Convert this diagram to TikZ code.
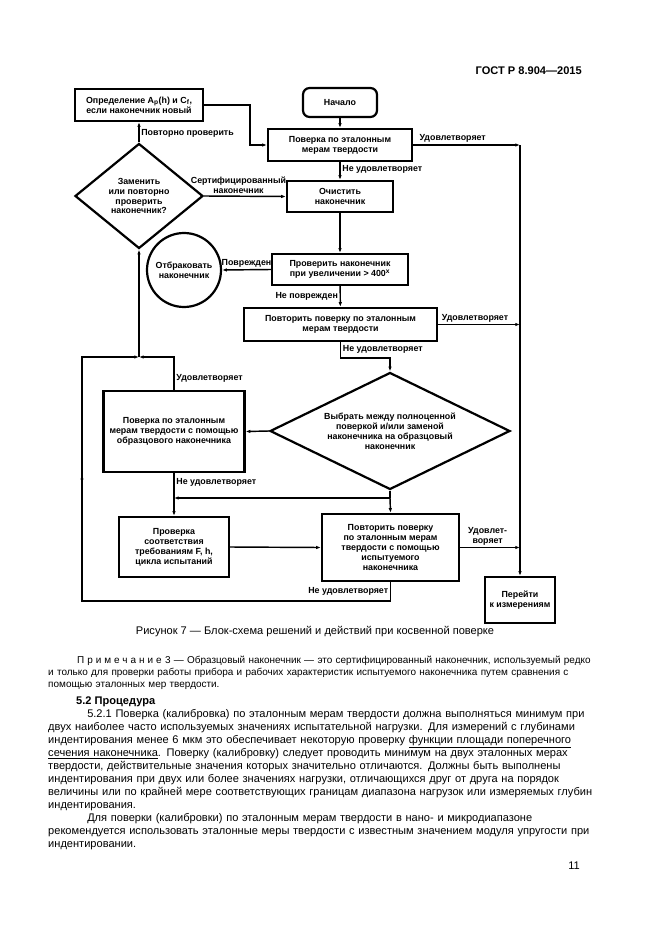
\documentclass[tikz,border=0pt]{standalone}
\usepackage{fontspec}
\setmainfont{Liberation Sans}
\usepackage{tikz}
\usetikzlibrary{
  shapes.geometric,
  arrows.meta,
  decorations,
  decorations.markings
}

\newcommand{\txtline}[1]{\hbox to\hsize{#1}}
\newcommand{\lastline}[1]{\hbox to\hsize{#1\hfil}}

\begin{document}
\begin{tikzpicture}[
          x=0.3177mm, y=-0.3177mm,
          dims/.style 2 args={
              minimum width=#1*0.3177mm,
              minimum height=#2*0.3177mm
            },
          chartfont/.style={
              font=\fontsize{8}{9}\selectfont\bfseries
            },
          block/.style={
              draw, line width=2pt, inner sep=1pt, align=center, chartfont
            },
          decision/.style={
              diamond, draw, line width=2pt, inner sep=0pt, align=center, chartfont
            },
          lbl/.style={
              inner sep=1.5pt, align=center, chartfont
            },
          conn/.style={
              line width=1.3pt, -{Latex[length=1.5mm,width=1.1mm]}
            },
          line/.style={
              line width=1.3pt
            },
          midarrow/.style={
              postaction={
                  decorate,
                  decoration={
                      markings,
                      mark=at position #1 with {\arrow{Latex[length=1.5mm,width=1.1mm]}}
                    }
                }
            },
          midarrow/.default=.5
        ]
        % лист
        \path[use as bounding box, fill=white] (0,0) rectangle (661,936);
        \node[anchor=base east, inner sep=0, font=\fontsize{10}{12}\selectfont\bfseries]
          (header) at (582,74.5) {ГОСТ Р 8.904—2015};

        % блоки схемы
        \node[block, rounded corners=6pt, dims={74}{29}] (start) at (340,102.5) {Начало};
        \node[block, dims={144}{32}] (pov1) at (340,145) {Поверка по эталонным\\мерам твердости};
        \node[block, dims={128}{32}] (opr) at (139,105)
          {Определение A\textsubscript{p}(h) и C\textsubscript{f},\\если наконечник новый};
        \node[decision, dims={128}{105}] (zam) at (139,196)
          {Заменить\\или повторно\\проверить\\наконечник?};
        \node[block, dims={106}{31}] (och) at (340,196.5) {Очистить\\наконечник};
        \node[circle, draw, line width=2pt, minimum size=74*0.3177mm, inner sep=0pt,
          align=center, chartfont] (otbr) at (184,270) {Отбраковать\\наконечник};
        \node[block, dims={136}{31}] (prov) at (340,269.5)
          {Проверить наконечник\\при увеличении > 400\textsuperscript{x}};
        \node[block, dims={193}{33}] (pov2) at (340.5,324.5)
          {Повторить поверку по эталонным\\мерам твердости};
        \node[block, dims={141}{81}] (obr) at (174,431.5)
          {Поверка по эталонным\\мерам твердости с помощью\\образцового наконечника};
        \node[decision, aspect=2, dims={240}{117}] (vyb) at (390,431)
          {Выбрать между полноценной\\поверкой и/или заменой\\наконечника на образцовый\\наконечник};
        \node[block, dims={110}{60}] (sootv) at (174,547)
          {Проверка\\соответствия\\требованиям F, h,\\цикла испытаний};
        \node[block, dims={137}{67}] (pov3) at (390.5,547.5)
          {Повторить поверку\\по эталонным мерам\\твердости с помощью\\испытуемого\\наконечника};
        \node[block, dims={70}{46}] (izm) at (520,600) {Перейти\\к измерениям};

        % точки изломов
        \coordinate (rtop) at (520,145);
        \coordinate (bendA) at (250,125);
        \coordinate (bendB) at (365,358);
        \coordinate (jtop) at (139,357);
        \coordinate (jbot) at (390,498);
        \coordinate (loopbl) at (82,601);

        % связи
        \draw[conn] (start) -- (pov1);
        \draw[conn] (pov1) -- node[lbl, right, pos=.4] (l_ne1) {Не удовлетворяет} (och);
        \draw[conn] (pov1.east) -- node[lbl, above, pos=.37] (l_ud1) {Удовлетворяет} (rtop);
        \draw[conn] (rtop) -- (izm.north);
        \draw[conn] (opr.east) -| (bendA) |- (pov1.west);
        \draw[conn] (zam.north) -- node[lbl, right, pos=.42] (l_pp) {Повторно проверить} (opr.south);
        \draw[conn] (zam.east) -- node[lbl, above, pos=.42] (l_sert) {Сертифицированный\\наконечник} (och.west);
        \draw[conn] (och) -- (prov);
        \draw[conn] (prov.west) -- node[lbl, above] (l_povr) {Поврежден} (otbr.east);
        \draw[conn] (prov) -- node[lbl, left] (l_nepovr) {Не поврежден} (pov2);
        \draw[conn] (pov2.east) -- node[lbl, above, pos=.45] (l_ud2) {Удовлетворяет} (pov2.east -| rtop);
        \draw[conn] (pov2.south) |- node[lbl, right, pos=.22] (l_ne2) {Не удовлетворяет} (bendB) -| (vyb.north);
        \draw[conn] (vyb.west) -- (obr.east);
        \draw[conn] (obr.north) |- node[lbl, right, pos=.18] (l_ud3) {Удовлетворяет} (jtop);
        \draw[conn] (jtop) -- (zam.south);
        \draw[conn] (obr.south) -- node[lbl, right, pos=.22] (l_ne3) {Не удовлетворяет} (sootv.north);
        \draw[line] (vyb.south) -- (jbot);
        \draw[conn] (jbot) -- (pov3.north);
        \draw[conn] (jbot) -- (jbot -| sootv.north);
        \draw[conn] (sootv.east) -- (pov3.west);
        \draw[conn] (pov3.east) -- node[lbl, above, pos=.46] (l_ud4) {Удовлет-\\воряет} (pov3.east -| rtop);
        \draw[conn, midarrow=.722] (pov3.south) -- node[lbl, left] (l_ne4) {Не удовлетворяет}
          (pov3.south |- loopbl) -- (loopbl) |- (jtop);

        % подпись и текст
        \node[anchor=base, inner sep=0, font=\fontsize{10}{12}\selectfont] (caption) at (315,634.5)
          {Рисунок 7 — Блок-схема решений и действий при косвенной поверке};
        \node[anchor=base west, inner sep=0, text width=169.65mm, font=\fontsize{9}{10.8}\selectfont]
          (note) at (48,663.5) {%
          \txtline{\kern9.2mm{\addfontfeatures{LetterSpace=30}Примечание} 3 — Образцовый наконечник — это сертифицированный наконечник, используемый редко}
          \txtline{и только для проверки работы прибора и рабочих характеристик испытуемого наконечника путем сравнения с}
          \lastline{помощью эталонных мер твердости.}};
        \node[anchor=base west, inner sep=0, font=\fontsize{10}{11.7}\selectfont\bfseries]
          (heading) at (76,704.5) {5.2 Процедура};
        \node[anchor=base west, inner sep=0, text width=169.65mm, font=\fontsize{10}{11.7}\selectfont]
          (para1) at (48,717.5) {%
          \txtline{\kern12.4mm 5.2.1 Поверка (калибровка) по эталонным мерам твердости должна выполняться минимум при}
          \txtline{двух наиболее часто используемых значениях испытательной нагрузки. Для измерений с глубинами}
          \txtline{индентирования менее 6 мкм это обеспечивает некоторую проверку \underline{функции площади поперечного}}
          \txtline{\underline{сечения наконечника}. Поверку (калибровку) следует проводить минимум на двух эталонных мерах}
          \txtline{твердости, действительные значения которых значительно отличаются. Должны быть выполнены}
          \txtline{индентирования при двух или более значениях нагрузки, отличающихся друг от друга на порядок}
          \txtline{величины или по крайней мере соответствующих границам диапазона нагрузок или измеряемых глубин}
          \lastline{индентирования.}};
        \node[anchor=base west, inner sep=0, text width=169.65mm, font=\fontsize{10}{11.7}\selectfont]
          (para2) at (48,821.5) {%
          \txtline{\kern12.4mm Для поверки (калибровки) по эталонным мерам твердости в нано- и микродиапазоне}
          \txtline{рекомендуется использовать эталонные меры твердости с известным значением модуля упругости при}
          \lastline{индентировании.}};
        \node[anchor=base east, inner sep=0, font=\fontsize{10}{12}\selectfont] (pagenum) at (580,869.5) {11};

      \end{tikzpicture}
\end{document}
